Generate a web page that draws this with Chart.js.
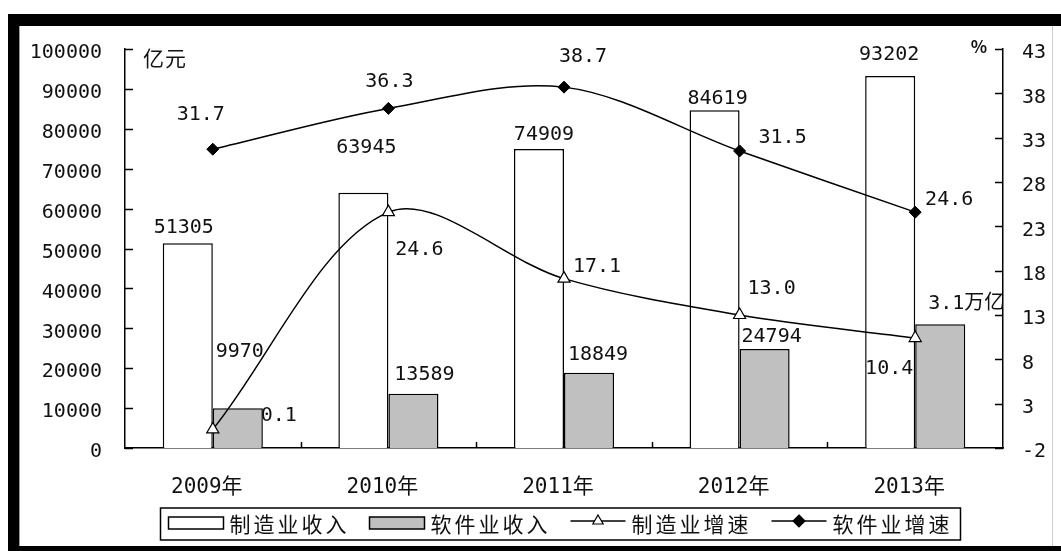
<!DOCTYPE html>
<html>
<head>
<meta charset="utf-8">
<script src="https://cdn.jsdelivr.net/npm/chart.js@4.4.1/dist/chart.umd.min.js"></script>
<style>
  html, body { margin: 0; padding: 0; background: #fff; }
  canvas { display: block; }
</style>
</head>
<body>
<canvas id="chart" width="1061" height="551"></canvas>
<script>
const years = ['2009年', '2010年', '2011年', '2012年', '2013年'];
const mfgIncome = [51305, 63945, 74909, 84619, 93202];
const swIncome = [9970, 13589, 18849, 24794, 31000];
const swIncomeText = ['9970', '13589', '18849', '24794', '3.1万亿'];
const mfgGrowth = [0.1, 24.6, 17.1, 13.0, 10.4];
const swGrowth = [31.7, 36.3, 38.7, 31.5, 24.6];
const seriesNames = ['制造业收入', '软件业收入', '制造业增速', '软件业增速'];

// hand placed label nudges from the original (px from bar top / point)
const mfgIncomeNudge = [[-4, -15], [3, -45], [5, -14], [3, -12], [-1, -21]];
const swIncomeNudge = [[2, -56], [11, -19], [9, -18], [7, -12], [26, -21]];
const mfgGrowthNudge = [[66, -14], [31, 38], [33, -12], [32, -26], [-26, 31]];
const swGrowthNudge = [[-12, -34], [1, -27], [19, -30], [43, -13], [34, -12]];

const NUM_FAMILY = '"DejaVu Sans Mono", "Noto Sans CJK SC", monospace';
const NUM_FONT = '20px ' + NUM_FAMILY;
const CJK_FONT = '21px "Noto Sans CJK SC", sans-serif';
const INK = '#111';

const frame = {
  id: 'frame',
  beforeDraw(chart) {
    const ctx = chart.ctx;
    ctx.save();
    ctx.fillStyle = '#fff';
    ctx.fillRect(0, 0, chart.width, chart.height);
    ctx.fillStyle = '#000';
    ctx.fillRect(8, 14, 1053, 12);
    ctx.fillRect(8, 14, 11, 537);
    ctx.fillRect(8, 546, 1053, 5);
    ctx.fillStyle = '#999';
    ctx.fillRect(19, 26, 1, 520);
    ctx.fillStyle = '#ccc';
    ctx.fillRect(1052, 26, 1, 520);
    ctx.restore();
  }
};

const valueLabels = {
  id: 'valueLabels',
  afterDatasetsDraw(chart) {
    const ctx = chart.ctx;
    ctx.save();
    ctx.font = NUM_FONT;
    ctx.fillStyle = INK;
    ctx.textAlign = 'center';
    ctx.textBaseline = 'middle';
    chart.data.datasets.forEach((ds, i) => {
      const meta = chart.getDatasetMeta(i);
      meta.data.forEach((el, j) => {
        const [dx, dy] = ds.nudge[j];
        ctx.fillText(ds.valueText[j], el.x + dx, el.y + dy);
      });
    });
    ctx.restore();
  }
};

function drawMarker(ctx, style, x, y, r, fill) {
  ctx.beginPath();
  if (style === 'triangle') {
    ctx.moveTo(x, y - r);
    ctx.lineTo(x + r * 0.866, y + r * 0.5);
    ctx.lineTo(x - r * 0.866, y + r * 0.5);
  } else {
    ctx.moveTo(x, y - r);
    ctx.lineTo(x + r, y);
    ctx.lineTo(x, y + r);
    ctx.lineTo(x - r, y);
  }
  ctx.closePath();
  ctx.fillStyle = fill;
  ctx.fill();
  ctx.stroke();
}

const axisExtras = {
  id: 'axisExtras',
  afterDraw(chart) {
    const ctx = chart.ctx;
    const x = chart.scales.x, y = chart.scales.y, y1 = chart.scales.y1;
    ctx.save();
    ctx.strokeStyle = '#000';
    ctx.lineWidth = 1.5;
    ctx.beginPath();
    y.ticks.forEach(t => {
      const py = Math.round(y.getPixelForValue(t.value)) + 0.5;
      ctx.moveTo(y.right, py); ctx.lineTo(y.right + 8, py);
    });
    y1.ticks.forEach(t => {
      const py = Math.round(y1.getPixelForValue(t.value)) + 0.5;
      ctx.moveTo(y1.left, py); ctx.lineTo(y1.left - 8, py);
    });
    for (let i = 1; i < years.length; i++) {
      const px = Math.round((x.getPixelForValue(i - 1) + x.getPixelForValue(i)) / 2) + 0.5;
      ctx.moveTo(px, x.top); ctx.lineTo(px, x.top - 6);
    }
    ctx.stroke();

    // axis titles
    ctx.fillStyle = INK;
    ctx.textBaseline = 'middle';
    ctx.font = CJK_FONT;
    ctx.letterSpacing = '1px';
    ctx.textAlign = 'left';
    ctx.fillText('亿元', y.right + 18, 58);
    ctx.letterSpacing = '0px';
    ctx.font = 'bold 17px "Noto Sans CJK SC", sans-serif';
    ctx.textAlign = 'center';
    ctx.fillText('%', y1.left - 24, 47);

    // legend
    const ds = chart.data.datasets;
    const order = [2, 3, 0, 1];
    ctx.font = CJK_FONT;
    ctx.letterSpacing = '3px';
    const sw = 55, gap = 6, sep = 20;
    const widths = seriesNames.map(n => ctx.measureText(n).width);
    const total = widths.reduce((a, w) => a + sw + gap + w, 0) + sep * 3;
    const boxW = total + 16, boxH = 32, boxTop = 508;
    const boxLeft = Math.round((chart.chartArea.left + chart.chartArea.right) / 2 - boxW / 2) - 3.5;
    ctx.lineWidth = 1.5;
    ctx.strokeRect(boxLeft, boxTop, boxW, boxH);
    const cy = boxTop + boxH / 2;
    let cx = boxLeft + 8;
    seriesNames.forEach((name, k) => {
      const d = ds[order[k]];
      ctx.strokeStyle = '#000';
      ctx.lineWidth = 1.5;
      if (d.type === 'line') {
        ctx.beginPath();
        ctx.moveTo(cx, cy - 3); ctx.lineTo(cx + sw, cy - 3);
        ctx.stroke();
        ctx.lineWidth = 1.2;
        drawMarker(ctx, d.pointStyle, cx + sw / 2, cy - 3, 6, d.pointBackgroundColor);
      } else {
        ctx.fillStyle = d.backgroundColor;
        ctx.fillRect(cx, cy - 7, sw, 12);
        ctx.strokeRect(cx, cy - 7, sw, 12);
      }
      ctx.fillStyle = INK;
      ctx.textAlign = 'left';
      ctx.fillText(name, cx + sw + gap, cy);
      cx += sw + gap + widths[k] + sep;
    });
    ctx.restore();
  }
};

new Chart(document.getElementById('chart'), {
  type: 'bar',
  data: {
    labels: years,
    datasets: [
      {
        type: 'line', label: seriesNames[2], data: mfgGrowth, yAxisID: 'y1', order: 0,
        borderColor: '#000', borderWidth: 1.5, tension: 0.33, fill: false,
        pointStyle: 'triangle', pointRadius: 7, pointBackgroundColor: '#fff',
        pointBorderColor: '#000', pointBorderWidth: 1.2,
        valueText: mfgGrowth.map(v => v.toFixed(1)), nudge: mfgGrowthNudge
      },
      {
        type: 'line', label: seriesNames[3], data: swGrowth, yAxisID: 'y1', order: 0,
        borderColor: '#000', borderWidth: 1.5, tension: 0.33, fill: false,
        pointStyle: 'rectRot', pointRadius: 6, pointBackgroundColor: '#000',
        pointBorderColor: '#000', pointBorderWidth: 1,
        valueText: swGrowth.map(v => v.toFixed(1)), nudge: swGrowthNudge
      },
      {
        label: seriesNames[0], data: mfgIncome, yAxisID: 'y', order: 1,
        backgroundColor: '#fff', borderColor: '#000', borderWidth: 1.5,
        valueText: mfgIncome.map(String), nudge: mfgIncomeNudge
      },
      {
        label: seriesNames[1], data: swIncome, yAxisID: 'y', order: 1,
        backgroundColor: '#c0c0c0', borderColor: '#000', borderWidth: 1.5,
        valueText: swIncomeText, nudge: swIncomeNudge
      }
    ]
  },
  options: {
    responsive: false,
    animation: false,
    devicePixelRatio: 1,
    layout: { padding: { top: 49, left: 0, right: 0, bottom: 43 } },
    datasets: { bar: { barPercentage: 1, categoryPercentage: 0.57 } },
    plugins: { legend: { display: false }, tooltip: { enabled: false } },
    scales: {
      x: {
        grid: { display: false, drawTicks: false },
        border: { display: true, color: '#000', width: 1.5 },
        ticks: {
          color: INK, padding: 27, labelOffset: -6, maxRotation: 0,
          font: { family: NUM_FAMILY, size: 21 }
        },
        afterFit: s => { s.height = 60; }
      },
      y: {
        position: 'left', min: 0, max: 100000,
        grid: { display: false, drawTicks: false },
        border: { display: true, color: '#000', width: 1.5 },
        ticks: {
          stepSize: 10000, color: INK, padding: 23, labelOffset: 4,
          font: { family: NUM_FAMILY, size: 20 }, callback: v => String(v)
        },
        afterFit: s => { s.width = 125; }
      },
      y1: {
        position: 'right', min: -2, max: 43,
        grid: { display: false, drawTicks: false },
        border: { display: true, color: '#000', width: 1.5 },
        ticks: {
          stepSize: 5, color: INK, padding: 19, labelOffset: 4,
          font: { family: NUM_FAMILY, size: 20 }, callback: v => String(v)
        },
        afterFit: s => { s.width = 58; }
      }
    }
  },
  plugins: [frame, valueLabels, axisExtras]
});
</script>
</body>
</html>
